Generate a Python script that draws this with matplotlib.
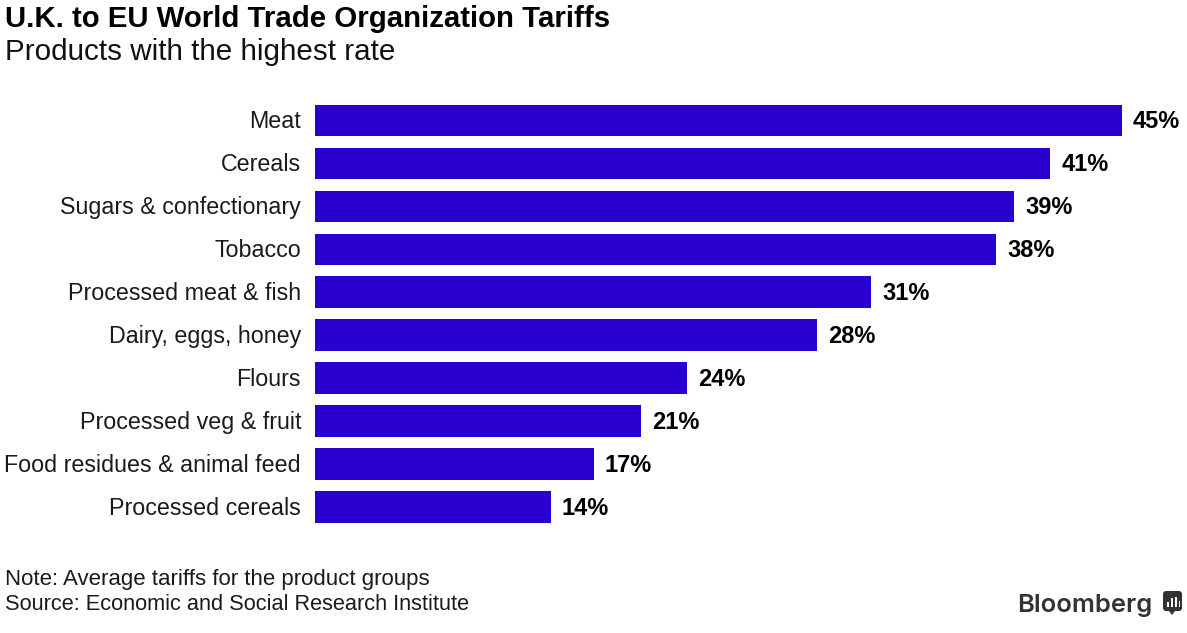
import matplotlib
matplotlib.use("Agg")
import matplotlib.pyplot as plt
from matplotlib.patches import FancyBboxPatch, Polygon, Rectangle
from matplotlib.transforms import ScaledTranslation

categories = ["Meat", "Cereals", "Sugars & confectionary", "Tobacco",
              "Processed meat & fish", "Dairy, eggs, honey", "Flours",
              "Processed veg & fruit", "Food residues & animal feed",
              "Processed cereals"]
# printed labels and drawn bar lengths disagree in the original for the lower rows
tariff_labels = [45, 41, 39, 38, 31, 28, 24, 21, 17, 14]
bar_lengths = [45, 41, 39, 38, 31, 28, 20.75, 18.2, 15.55, 13.15]

W, H = 1187, 633
BAR = "#2a00d1"
plt.rcParams["font.family"] = ["Liberation Sans", "DejaVu Sans"]

fig = plt.figure(figsize=(W / 100, H / 100), dpi=100, facecolor="white")


def fx(px):
    return px / W


def fy(px):
    return 1 - px / H


# axes span exactly the 0-45 range and the ten rows
ax = fig.add_axes([fx(315), fy(528.5), fx(1122 - 315), (528.5 - 99) / H])
rows = range(len(categories))
ax.barh(rows, bar_lengths, height=0.735, color=BAR, linewidth=0)
ax.set_xlim(0, 45)
ax.set_ylim(9.5, -0.5)
ax.set_xticks([])
ax.set_yticks(list(rows))
ax.set_yticklabels(categories, fontsize=16.75, color="#1a1a1a")
ax.tick_params(axis="y", length=0, pad=10)
nudge = ScaledTranslation(0, 1.0 / 72, fig.dpi_scale_trans)
for t in ax.get_yticklabels():
    t.set_transform(t.get_transform() + nudge)
for s in ax.spines.values():
    s.set_visible(False)

for i, v, lab in zip(rows, bar_lengths, tariff_labels):
    ax.annotate(f"{lab}%", (v, i), xytext=(8, 0.8), textcoords="offset points",
                va="center_baseline", ha="left", fontsize=17, fontweight="bold",
                color="black", annotation_clip=False)

fig.text(fx(5), fy(27), "U.K. to EU World Trade Organization Tariffs",
         fontsize=21.2, fontweight="bold", color="black")
fig.text(fx(5), fy(60), "Products with the highest rate", fontsize=21.3, color="#111111")
fig.text(fx(5), fy(585), "Note: Average tariffs for the product groups",
         fontsize=16, color="#1a1a1a")
fig.text(fx(5), fy(610), "Source: Economic and Social Research Institute",
         fontsize=15.7, color="#1a1a1a")

# Bloomberg logo
LOGO = "#333333"
fig.text(fx(1017), fy(612), "Bloomberg", family="Inter", fontsize=18.4,
         fontweight="semibold", color=LOGO)
bg = fig.add_axes([0, 0, 1, 1], facecolor="none")
bg.set_xlim(0, W)
bg.set_ylim(H, 0)
bg.axis("off")
bg.add_patch(FancyBboxPatch((1163, 591), 19, 20, boxstyle="round,pad=0,rounding_size=3",
                            fc=LOGO, ec="none"))
bg.add_patch(Polygon([[1169, 611], [1175, 611], [1172, 615]], fc=LOGO, ec="none"))
for x, top in [(1167, 602), (1171, 598), (1175, 597), (1178.5, 601)]:
    bg.add_patch(Rectangle((x, top), 1.6, 607 - top, fc="white", ec="none"))

fig.savefig("out.png", dpi=100, facecolor="white")
